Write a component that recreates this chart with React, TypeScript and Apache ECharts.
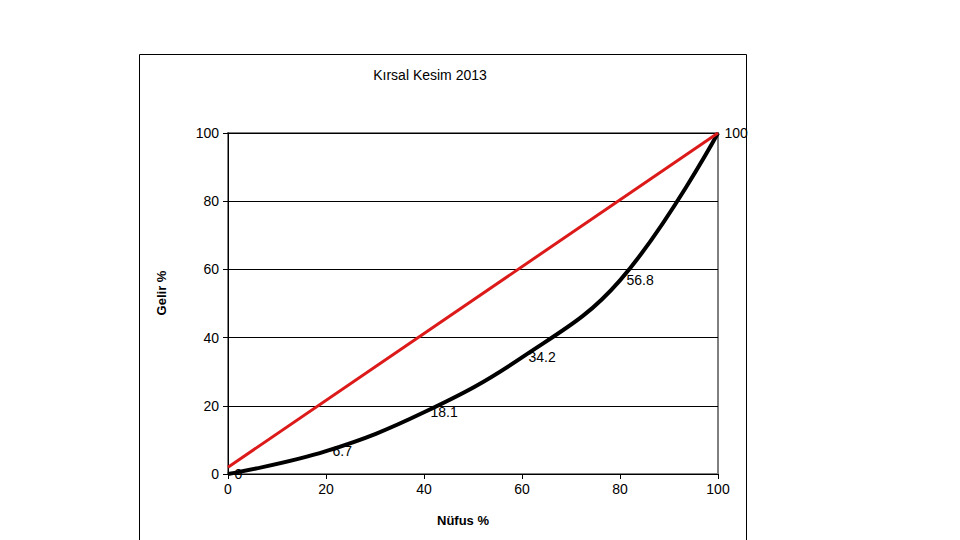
import React, { useEffect, useRef } from "react";
import * as echarts from "echarts";

const populationPct = [0, 20, 40, 60, 80, 100];
const incomePct = [0, 6.7, 18.1, 34.2, 56.8, 100];
const equalityX = [0, 100];
const equalityY = [2, 100];
const axisTicks = [0, 20, 40, 60, 80, 100];
const xAxisName = "Nüfus %";
const yAxisName = "Gelir %";
const chartTitle = "Kırsal Kesim 2013";

const FONT = "Liberation Sans, Arial, sans-serif";

export default function App() {
  const ref = useRef<HTMLDivElement>(null);
  useEffect(() => {
    if (!ref.current) return;
    const chart = echarts.init(ref.current, undefined, { renderer: "svg" });
    chart.setOption({
      animation: false,
      backgroundColor: "#ffffff",
      textStyle: { fontFamily: FONT },
      title: {
        text: chartTitle,
        left: 425,
        top: 63,
        textAlign: "center",
        textStyle: { fontFamily: FONT, fontSize: 14, fontWeight: "normal", color: "#000" },
      },
      graphic: [
        {
          type: "rect",
          shape: { x: 139.5, y: 54.5, width: 607, height: 500 },
          style: { fill: "none", stroke: "#000", lineWidth: 1 },
          silent: true,
        },
        {
          type: "text",
          x: 161,
          y: 293,
          rotation: Math.PI / 2,
          style: {
            text: yAxisName,
            fontFamily: FONT,
            fontSize: 13,
            fontWeight: "bold",
            fill: "#000",
            align: "center",
            verticalAlign: "middle",
          },
          silent: true,
        },
        {
          type: "text",
          x: 463,
          y: 520,
          style: {
            text: xAxisName,
            fontFamily: FONT,
            fontSize: 13,
            fontWeight: "bold",
            fill: "#000",
            align: "center",
            verticalAlign: "middle",
          },
          silent: true,
        },
      ],
      grid: {
        left: 228,
        right: 242,
        top: 133,
        bottom: 66,
        show: true,
        borderColor: "#808080",
        borderWidth: 2,
        backgroundColor: "transparent",
      },
      xAxis: {
        type: "value",
        min: axisTicks[0],
        max: axisTicks[axisTicks.length - 1],
        interval: 20,
        axisLine: { show: true, lineStyle: { color: "#000", width: 1 } },
        axisTick: { show: true, length: 5, lineStyle: { color: "#000" } },
        axisLabel: { fontFamily: FONT, fontSize: 14, color: "#000", margin: 8 },
        splitLine: { show: false },
      },
      yAxis: {
        type: "value",
        min: axisTicks[0],
        max: axisTicks[axisTicks.length - 1],
        interval: 20,
        axisLine: { show: true, lineStyle: { color: "#000", width: 1 } },
        axisTick: { show: true, length: 5, lineStyle: { color: "#000" } },
        axisLabel: { fontFamily: FONT, fontSize: 14, color: "#000", margin: 9 },
        splitLine: { show: true, lineStyle: { color: "#000", width: 1 } },
      },
      series: [
        {
          type: "line",
          name: "Lorenz",
          data: populationPct.map((x, i) => [x, incomePct[i]]),
          smooth: 0.4,
          symbol: "circle",
          symbolSize: 1,
          itemStyle: { color: "#000" },
          lineStyle: { color: "#000", width: 4 },
          label: {
            show: true,
            position: "right",
            distance: 6,
            fontFamily: FONT,
            fontSize: 14,
            color: "#000",
            textBorderWidth: 0,
            formatter: (p: any) => String(p.value[1]),
          },
          z: 3,
        },
        {
          type: "line",
          name: "Equality",
          data: equalityX.map((x, i) => [x, equalityY[i]]),
          symbol: "none",
          lineStyle: { color: "#dd1a1a", width: 3 },
          z: 4,
        },
      ],
    });
    return () => chart.dispose();
  }, []);
  return (
    <div
      ref={ref}
      style={{ position: "absolute", left: 0, top: 0, width: 960, height: 540 }}
    />
  );
}
